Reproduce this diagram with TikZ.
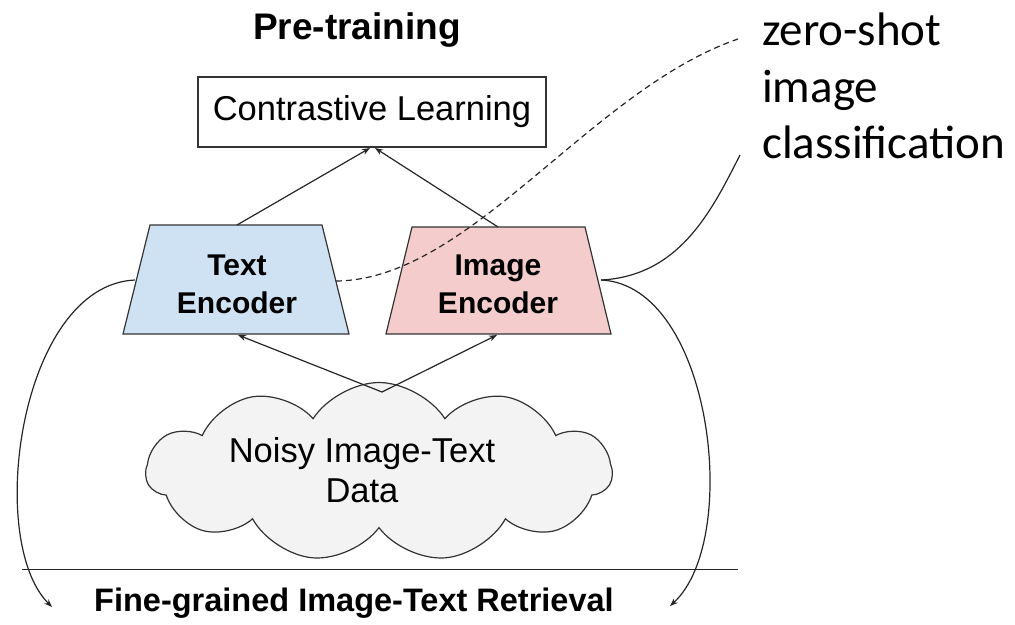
\documentclass[tikz,border=0pt]{standalone}
\usepackage{fontspec}
\setmainfont{Liberation Sans}
\newfontfamily\calib{Carlito}
\usetikzlibrary{shapes.symbols,arrows.meta}
\definecolor{encblue}{HTML}{CFE2F3}
\definecolor{encpink}{HTML}{F4CCCC}
\definecolor{cloudgray}{HTML}{F3F3F3}
\definecolor{edge}{HTML}{333333}
\tikzset{
  lbl/.style={inner sep=0pt, align=center, text=black},
  conn/.style={line width=1.2pt, draw=black!85},
  arr/.style={conn, -{Stealth[length=8pt,width=6pt]}},
  enc/.style={line width=1.2pt, draw=edge},
}
\begin{document}
\begin{tikzpicture}[x=1pt,y=-1pt]
\useasboundingbox (0,0) rectangle (1015,624);
% title
\node[lbl, font=\bfseries\fontsize{37}{40}\selectfont] (title) at (357,30) {Pre-training};
% contrastive box
\node[draw=edge, line width=1.2pt, minimum width=348pt, minimum height=70pt, inner sep=0pt,
      font=\fontsize{34.5}{40}\selectfont] (cl) at (372,112) {Contrastive Learning};
% encoders
\coordinate (teTL) at (150,225); \coordinate (teTR) at (322,225);
\coordinate (teBR) at (349,334); \coordinate (teBL) at (123,334);
\draw[enc, fill=encblue] (teTL) -- (teTR) -- (teBR) -- (teBL) -- cycle;
\node[lbl, font=\bfseries\fontsize{30}{38}\selectfont] (te) at (237,284) {Text\\Encoder};
\coordinate (iaTL) at (412,227); \coordinate (iaTR) at (585,227);
\coordinate (iaBR) at (611,334); \coordinate (iaBL) at (386,334);
\draw[enc, fill=encpink] (iaTL) -- (iaTR) -- (iaBR) -- (iaBL) -- cycle;
\node[lbl, font=\bfseries\fontsize{30}{38}\selectfont] (ie) at (498,284) {Image\\Encoder};
% anchor coordinates
\coordinate (teTop) at (237,225);
\coordinate (teBot) at (238,335);
\coordinate (teL) at (135,280);
\coordinate (teR) at (336,281);
\coordinate (ieTop) at (498,227);
\coordinate (ieBot) at (497,335);
\coordinate (ieR) at (601,280);
\coordinate (clL) at (370,148);
\coordinate (clR) at (375,148);
% cloud
\node[cloud, cloud puffs=11, cloud puff arc=115, aspect=2.6, draw=edge, line width=1.2pt,
      fill=cloudgray, minimum width=466pt, minimum height=179pt, inner sep=0pt] (cloud) at (379,472) {};
\node[lbl, font=\fontsize{34.5}{40}\selectfont] (ctext) at (362,470) {Noisy Image-Text\\Data};
\coordinate (cTop) at (382,392);
% arrows
\draw[arr] (teTop) -- (clL);
\draw[arr] (ieTop) -- (clR);
\draw[arr] (cTop) -- (teBot);
\draw[arr] (cTop) -- (ieBot);
% separator
\coordinate (sepL) at (22,569); \coordinate (sepR) at (738,569);
\draw[conn, line width=1pt] (sepL) -- (sepR);
% bottom label
\node[lbl, font=\bfseries\fontsize{32.5}{38}\selectfont] (ret) at (354,603) {Fine-grained Image-Text Retrieval};
\coordinate (retL) at (52,607);
\coordinate (retR) at (670,606);
\draw[arr] (teL) .. controls (20,285) and (-15,540) .. (retL);
\draw[arr] (ieR) .. controls (712,285) and (742,540) .. (retR);
% right labels
\node[lbl, anchor=north west, align=left, font=\calib\fontsize{47}{56.5}\selectfont] (zs) at (762,13) {zero-shot\\image\\classification};
\coordinate (zsEnd) at (738,39);
\coordinate (clsEnd) at (740,155);
\draw[conn, dashed, dash pattern=on 6pt off 4pt] (teR) .. controls (470,280) and (590,90) .. (zsEnd);
\draw[conn] (ieR) .. controls (680,276) and (712,210) .. (clsEnd);
\end{tikzpicture}
\end{document}
